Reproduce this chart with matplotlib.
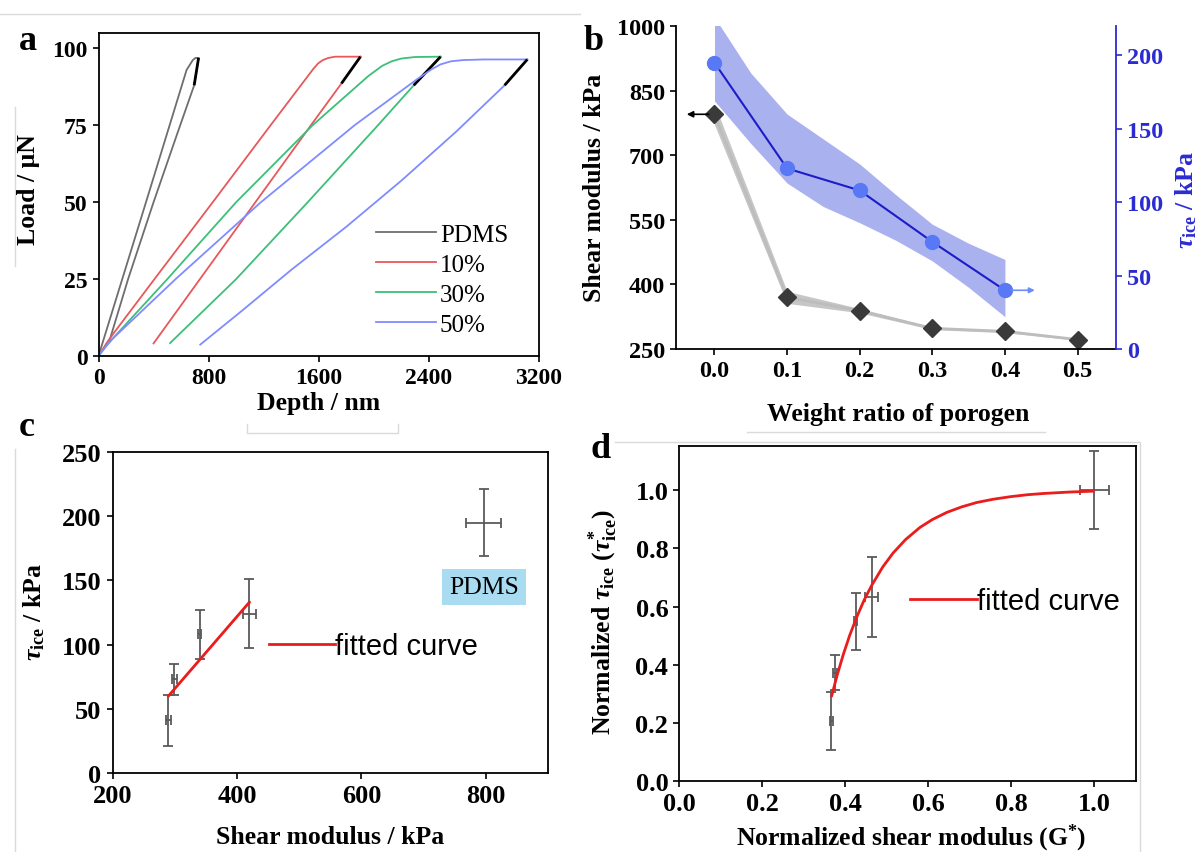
import matplotlib
matplotlib.use("Agg")
import matplotlib.pyplot as plt
from matplotlib.lines import Line2D

# ---- panel a: load-depth curves (depth in nm, load in uN) ----
pdms_load_d = [0, 345, 640, 685, 705, 720]
pdms_load_f = [0, 50, 93, 96.2, 96.9, 96.9]
pdms_unload_d = [727, 695, 570, 400, 215, 80]
pdms_unload_f = [96.9, 88, 72, 50, 25, 5]
pdms_tan_d = [727, 695]
pdms_tan_f = [96.9, 88]

p10_load_d = [0, 60, 120, 410, 830, 1250, 1560, 1595, 1630, 1670, 1720, 1903]
p10_load_f = [0, 4.3, 8, 25.2, 50, 75, 93.3, 95.1, 96.2, 96.9, 97.3, 97.3]
p10_unload_d = [1903, 1765, 1543, 1140, 737, 400]
p10_unload_f = [97.3, 88.6, 75, 50, 25, 4.1]
p10_tan_d = [1903, 1765]
p10_tan_f = [97.3, 88.6]

p30_load_d = [0, 55, 110, 500, 1000, 1555, 1960, 2060, 2130, 2200, 2300, 2485]
p30_load_f = [0, 3.2, 6, 25, 50, 75, 91, 94.3, 95.8, 96.7, 97.2, 97.3]
p30_unload_d = [2485, 2290, 2030, 1520, 1000, 520]
p30_unload_f = [97.3, 88, 75, 50, 25, 4.2]
p30_tan_d = [2485, 2290]
p30_tan_f = [97.3, 88]

p50_load_d = [0, 50, 100, 560, 1180, 1860, 2315, 2420, 2485, 2560, 2650, 2800, 3115]
p50_load_f = [0, 2.9, 5.5, 25, 50, 75, 90, 93.2, 94.8, 95.8, 96.2, 96.4, 96.4]
p50_unload_d = [3115, 2950, 2600, 2200, 1800, 1400, 1050, 739]
p50_unload_f = [96.4, 88, 73, 57, 42, 28, 15, 3.7]
p50_tan_d = [3115, 2950]
p50_tan_f = [96.4, 88]

# ---- panel b ----
ratio_g = [0.0, 0.1, 0.2, 0.3, 0.4, 0.5]
shear_g = [795, 370, 339, 298, 291, 272]
shear_err = [24, 14, 5, 3, 3, 2]
ratio_t = [0.0, 0.1, 0.2, 0.3, 0.4]
tau_ice = [195, 123, 108, 73, 40]
# shaded tau band, edges read at a finer x step
band_x = [0.0, 0.05, 0.1, 0.15, 0.2, 0.25, 0.3, 0.35, 0.4]
band_hi = [226, 188, 160, 143, 126, 105, 85, 72, 61]
band_lo = [169, 140, 113, 97, 86, 74, 60, 42, 22]

# ---- panel c ----
c_shear = [290, 299, 340, 420, 797]
c_shear_err = [4, 4, 3, 10.6, 28]
c_tau = [41, 73, 108, 124, 195]
c_tau_err = [20, 12, 19, 27, 26]
c_fit_shear = [290, 420]
c_fit_tau = [60, 133]

# ---- panel d ----
d_shear = [0.366, 0.374, 0.425, 0.463, 1.0]
d_shear_err = [0.004, 0.005, 0.004, 0.015, 0.036]
d_tau = [0.208, 0.373, 0.549, 0.634, 1.0]
d_tau_err = [0.10, 0.06, 0.098, 0.137, 0.133]
d_fit_x = [0.367, 0.38, 0.395, 0.41, 0.427, 0.445, 0.463, 0.49, 0.515, 0.545,
           0.580, 0.61, 0.644, 0.68, 0.716, 0.755, 0.797, 0.84, 0.877, 0.94, 0.997]
d_fit_y = [0.294, 0.364, 0.436, 0.500, 0.563, 0.622, 0.672, 0.736, 0.784, 0.830,
           0.872, 0.899, 0.923, 0.942, 0.957, 0.968, 0.977, 0.984, 0.988, 0.993, 0.996]

plt.rcParams.update({
    "font.family": "Liberation Serif",
    "font.weight": "bold",
    "axes.labelweight": "bold",
    "mathtext.fontset": "custom",
    "mathtext.rm": "Liberation Serif:bold",
    "mathtext.it": "Liberation Serif:italic:bold",
    "mathtext.bf": "Liberation Serif:bold",
    "axes.linewidth": 1.3,
    "xtick.direction": "out",
    "ytick.direction": "out",
    "xtick.major.size": 4.5,
    "ytick.major.size": 4.5,
    "xtick.major.width": 1.2,
    "ytick.major.width": 1.2,
})

W, H = 1201, 853
fig = plt.figure(figsize=(W / 100, H / 100), dpi=100)


def px_axes(l, r, t, b):
    return fig.add_axes([l / W, 1 - b / H, (r - l) / W, (b - t) / H])


def px_line(xs, ys):
    # faint frame lines left over from the panel crops in the original figure
    fig.add_artist(Line2D([x / W for x in xs], [1 - y / H for y in ys],
                          color="#dadada", lw=1.0, zorder=0))


LABEL_FS = 18.5
ERR_COL = "#5a5a5a"
FIT_RED = "#ea1c1c"
FIT_PROP = {"family": "Liberation Sans", "weight": "normal", "size": 21}

px_line([0, 580], [15, 15])
px_line([15, 15], [108, 267])
px_line([15, 15], [450, 853])
px_line([247, 247, 398, 398], [425, 434, 434, 425])
px_line([747, 1045], [433, 433])
px_line([615, 1140, 1140], [443, 443, 853])

# ================= a =================
ax = px_axes(98.5, 539, 34, 357)
curves = [
    ("PDMS", "#6e6e6e", pdms_load_d, pdms_load_f, pdms_unload_d, pdms_unload_f, pdms_tan_d, pdms_tan_f),
    ("10%", "#e8585a", p10_load_d, p10_load_f, p10_unload_d, p10_unload_f, p10_tan_d, p10_tan_f),
    ("30%", "#3cbf78", p30_load_d, p30_load_f, p30_unload_d, p30_unload_f, p30_tan_d, p30_tan_f),
    ("50%", "#7f8cff", p50_load_d, p50_load_f, p50_unload_d, p50_unload_f, p50_tan_d, p50_tan_f),
]
for name, col, ld, lf, ud, uf, td, tf in curves:
    ax.plot(ld, lf, color=col, lw=1.3, label=name)
    ax.plot(ud, uf, color=col, lw=1.3)
    ax.plot(td, tf, color="black", lw=2.0, solid_capstyle="butt")
ax.set_xlim(0, 3200)
ax.set_ylim(0, 105)
ax.set_xticks([0, 800, 1600, 2400, 3200])
ax.set_yticks([0, 25, 50, 75, 100])
ax.tick_params(labelsize=17)
ax.set_xlabel("Depth / nm", fontsize=LABEL_FS, va="center")
ax.set_ylabel("Load / μN", fontsize=LABEL_FS, va="center")
ax.xaxis.set_label_coords(0.499, -0.1425)
ax.yaxis.set_label_coords(-0.160, 0.5175)
ax.legend(loc="upper left", bbox_to_anchor=(0.63, 0.41), frameon=False,
          prop={"family": "Liberation Serif", "weight": "normal", "size": 18},
          handlelength=2.4, handletextpad=0.15, labelspacing=0.3,
          borderpad=0, borderaxespad=0)

# ================= b =================
axb = px_axes(676, 1116, 27, 350)
g_lo = [g - e for g, e in zip(shear_g, shear_err)]
g_hi = [g + e for g, e in zip(shear_g, shear_err)]
axb.fill_between(ratio_g, g_lo, g_hi, color="#c6c6c6", lw=0)
axb.plot(ratio_g, shear_g, color="#bdbdbd", lw=2)
axb.plot(ratio_g, shear_g, ls="none", marker="D", ms=9, color="#3a3a3a")
axb.annotate("", xy=(-0.042, shear_g[0]), xytext=(-0.004, shear_g[0]),
             arrowprops=dict(arrowstyle="-|>", color="black", lw=1.2, mutation_scale=9))
axb.set_xlim(-0.053, 0.553)
axb.set_ylim(250, 1000)
axb.set_xticks(ratio_g)
axb.set_xticklabels([f"{v:.1f}" for v in ratio_g])
axb.set_yticks([250, 400, 550, 700, 850, 1000])
axb.tick_params(labelsize=17.5)
axb.spines["top"].set_visible(False)
axb.spines["right"].set_visible(False)
axb.set_xlabel("Weight ratio of porogen", fontsize=LABEL_FS, va="center")
axb.set_ylabel("Shear modulus / kPa", fontsize=LABEL_FS, va="center")
axb.xaxis.set_label_coords(0.5045, -0.201)
axb.yaxis.set_label_coords(-0.186, 0.5015)

BLUE_AX = "#2b2bd2"
axb2 = axb.twinx()
axb2.fill_between(band_x, band_lo, band_hi, color="#aab1ef", lw=0)
axb2.plot(ratio_t, tau_ice, color="#1c1cc8", lw=1.5)
axb2.plot(ratio_t, tau_ice, ls="none", marker="o", ms=10, color="#5878f6")
axb2.annotate("", xy=(0.445, tau_ice[-1]), xytext=(0.405, tau_ice[-1]),
              arrowprops=dict(arrowstyle="-|>", color="#6c8cf8", lw=1.2, mutation_scale=8))
axb2.set_ylim(0, 220)
axb2.set_yticks([0, 50, 100, 150, 200])
for s in ["top", "left", "bottom"]:
    axb2.spines[s].set_visible(False)
axb2.spines["right"].set_color(BLUE_AX)
axb2.tick_params(axis="y", colors=BLUE_AX, labelsize=17.5)
axb2.set_ylabel(r"$\tau_{\mathrm{ice}}$ / kPa", fontsize=LABEL_FS, color=BLUE_AX, va="center")
axb2.yaxis.set_label_coords(1.159, 0.464)

# ================= c =================
axc = px_axes(112.5, 548, 453, 774)
axc.errorbar(c_shear, c_tau, yerr=c_tau_err, xerr=c_shear_err, fmt="none",
             ecolor=ERR_COL, elinewidth=1.3, capsize=3.5, capthick=1.3)
axc.plot(c_fit_shear, c_fit_tau, color=FIT_RED, lw=2, label="fitted curve")
axc.text(797, 145, "PDMS", ha="center", va="center", fontsize=18.5, fontweight="normal",
         bbox=dict(boxstyle="square,pad=0.28", fc="#a9dcf1", ec="none"))
axc.set_xlim(200, 900)
axc.set_ylim(0, 250)
axc.set_xticks([200, 400, 600, 800])
axc.set_yticks([0, 50, 100, 150, 200, 250])
axc.tick_params(labelsize=19)
axc.set_xlabel("Shear modulus / kPa", fontsize=LABEL_FS, va="center")
axc.set_ylabel(r"$\tau_{\mathrm{ice}}$ / kPa", fontsize=LABEL_FS, va="center")
axc.xaxis.set_label_coords(0.499, -0.199)
axc.yaxis.set_label_coords(-0.180, 0.505)
axc.legend(loc="center left", bbox_to_anchor=(0.36, 0.395), frameon=False, prop=FIT_PROP,
           handlelength=2.26, handletextpad=0.0, borderpad=0, borderaxespad=0)

# ================= d =================
axd = px_axes(679.4, 1136, 447.3, 782.3)
axd.errorbar(d_shear, d_tau, yerr=d_tau_err, xerr=d_shear_err, fmt="none",
             ecolor=ERR_COL, elinewidth=1.3, capsize=3.5, capthick=1.3)
axd.plot(d_fit_x, d_fit_y, color=FIT_RED, lw=2, label="fitted curve")
axd.set_xlim(0, 1.1)
axd.set_ylim(0, 1.15)
ticks_d = [0, 0.2, 0.4, 0.6, 0.8, 1.0]
axd.set_xticks(ticks_d)
axd.set_yticks(ticks_d)
axd.set_xticklabels([f"{v:.1f}" for v in ticks_d])
axd.set_yticklabels([f"{v:.1f}" for v in ticks_d])
axd.tick_params(labelsize=19)
axd.set_xlabel(r"Normalized shear modulus (G$^{*}$)", fontsize=LABEL_FS, va="center")
axd.set_ylabel(r"Normalized $\tau_{\mathrm{ice}}$ ($\tau^{*}_{\mathrm{ice}}$)",
               fontsize=LABEL_FS, va="center")
axd.xaxis.set_label_coords(0.5085, -0.166)
axd.yaxis.set_label_coords(-0.167, 0.4785)
axd.legend(loc="center left", bbox_to_anchor=(0.504, 0.539), frameon=False, prop=FIT_PROP,
           handlelength=2.31, handletextpad=0.0, borderpad=0, borderaxespad=0)

# panel letters
for letter, x, y in [("a", 28, 41), ("b", 594, 42), ("c", 27, 428), ("d", 601, 450)]:
    fig.text(x / W, 1 - y / H, letter, ha="center", va="center", fontsize=26, fontweight="bold")

fig.savefig("out.png", dpi=100)
